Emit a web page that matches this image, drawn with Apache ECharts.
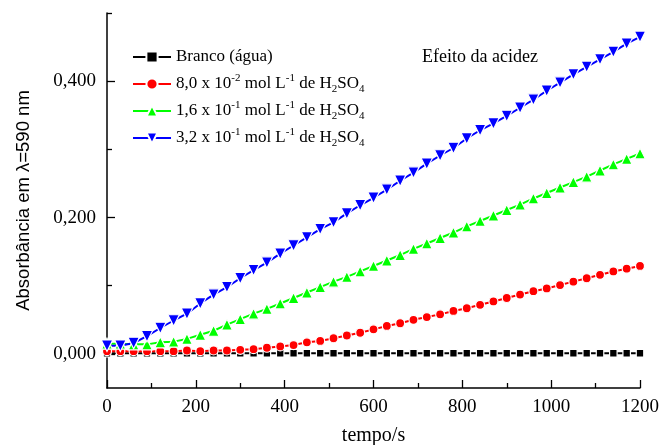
<!DOCTYPE html>
<html>
<head>
<meta charset="utf-8">
<script src="https://cdn.jsdelivr.net/npm/echarts@6/dist/echarts.min.js"></script>
<style>html,body{margin:0;padding:0;background:#fff}#c{width:665px;height:445px}</style>
</head>
<body>
<div id="c"></div>
<script>
var times = [0,30,60,90,120,150,180,210,240,270,300,330,360,390,420,450,480,510,540,570,600,630,660,690,720,750,780,810,840,870,900,930,960,990,1020,1050,1080,1110,1140,1170,1200];
var branco = [0.001,0.001,0.001,0.001,0.001,0.001,0.001,0.001,0.001,0.001,0.001,0.001,0.001,0.001,0.001,0.001,0.001,0.001,0.001,0.001,0.001,0.001,0.001,0.001,0.001,0.001,0.001,0.001,0.001,0.001,0.001,0.001,0.001,0.001,0.001,0.001,0.001,0.001,0.001,0.001,0.001];
var acid80e3 = [0.004,0.004,0.004,0.004,0.004,0.004,0.005,0.004,0.005,0.005,0.006,0.007,0.009,0.011,0.013,0.017,0.019,0.023,0.027,0.031,0.036,0.041,0.045,0.050,0.054,0.058,0.063,0.067,0.072,0.077,0.082,0.087,0.092,0.096,0.101,0.106,0.111,0.116,0.121,0.125,0.129];
var acid16e2 = [0.015,0.015,0.014,0.014,0.017,0.018,0.022,0.028,0.034,0.043,0.051,0.059,0.066,0.074,0.082,0.090,0.098,0.106,0.113,0.121,0.129,0.137,0.145,0.154,0.162,0.170,0.178,0.187,0.195,0.203,0.211,0.219,0.228,0.236,0.244,0.252,0.260,0.269,0.278,0.286,0.294];
var acid32e2 = [0.012,0.012,0.016,0.026,0.038,0.049,0.059,0.074,0.087,0.098,0.111,0.123,0.134,0.147,0.159,0.171,0.183,0.193,0.206,0.218,0.229,0.241,0.254,0.266,0.279,0.291,0.302,0.316,0.328,0.338,0.349,0.361,0.373,0.386,0.398,0.410,0.421,0.432,0.443,0.455,0.465];
var seriesNames = ['Branco (água)', '8,0 x 10-2 mol L-1 de H2SO4', '1,6 x 10-1 mol L-1 de H2SO4', '3,2 x 10-1 mol L-1 de H2SO4'];
var legendRich = ['Branco (água)', '8,0 x 10{sup|-2} mol L{sup|-1} de H{sub|2}SO{sub|4}', '1,6 x 10{sup|-1} mol L{sup|-1} de H{sub|2}SO{sub|4}', '3,2 x 10{sup|-1} mol L{sup|-1} de H{sub|2}SO{sub|4}'];
var yLabelTicks = [0, 0.2, 0.4];
var yMinorTicks = [0.1, 0.3, 0.5];
var xTicks = [0, 200, 400, 600, 800, 1000, 1200];
var titleText = 'Efeito da acidez';
var xName = 'tempo/s';
var yName = 'Absorbância em λ=590 nm';

function pairs(vals){ return times.map(function(t,i){ return [t, vals[i]]; }); }

var serif = 'Liberation Serif';
var chart = echarts.init(document.getElementById('c'), null, {renderer:'canvas'});
var mk = function(name, vals, color, symbol, size, rot){
  return {
    type:'line', name:name, data:pairs(vals), symbol:symbol, symbolSize:size, symbolRotate:rot||0,
    lineStyle:{width:2, color:color}, itemStyle:{color:color, borderColor:'#fff', borderWidth:1.2},
    animation:false
  };
};
chart.setOption({
  backgroundColor:'#fff',
  animation:false,
  title:{text:titleText, left:417, top:43, textStyle:{fontFamily:serif, fontSize:18, fontWeight:'normal', color:'#000'}},
  grid:{left:107, right:25, top:13, bottom:57, outerBoundsMode:'none', containLabel:false},
  legend:{
    orient:'vertical', left:127, top:41, itemWidth:38, itemHeight:14, itemGap:5,
    data:seriesNames,
    formatter:function(n){ return legendRich[seriesNames.indexOf(n)]; },
    textStyle:{fontFamily:serif, fontSize:17, color:'#000', lineHeight:22,
      rich:{
        sup:{fontFamily:serif, fontSize:11, verticalAlign:'top', lineHeight:11},
        sub:{fontFamily:serif, fontSize:11, verticalAlign:'bottom', lineHeight:11}
      }}
  },
  xAxis:{
    type:'value', min:0, max:1200, interval:200,
    name:xName, nameLocation:'middle', nameGap:38,
    nameTextStyle:{fontFamily:serif, fontSize:20, color:'#000'},
    axisLine:{show:true, onZero:false, lineStyle:{color:'#000', width:1.5}},
    axisTick:{show:true, inside:true, length:8, lineStyle:{color:'#000', width:1.3}},
    minorTick:{show:true, splitNumber:2, length:5, lineStyle:{color:'#000', width:1.3}},
    axisLabel:{fontFamily:serif, fontSize:19, color:'#000', margin:10, customValues:xTicks,
      formatter:function(v){ return String(v); }},
    splitLine:{show:false}
  },
  yAxis:[{
    type:'value', min:-0.05, max:0.5,
    name:yName, nameLocation:'middle', nameGap:74,
    nameTextStyle:{fontFamily:'Liberation Sans', fontSize:18.5, color:'#000'},
    axisLine:{show:true, onZero:false, lineStyle:{color:'#000', width:1.5}},
    axisTick:{show:true, inside:true, length:8, customValues:yLabelTicks, lineStyle:{color:'#000', width:1.3}},
    axisLabel:{fontFamily:serif, fontSize:19, color:'#000', margin:11, customValues:yLabelTicks,
      formatter:function(v){ return v.toFixed(3).replace('.', ','); }},
    splitLine:{show:false}
  },{
    type:'value', min:-0.05, max:0.5, position:'left',
    axisLine:{show:false},
    axisTick:{show:true, inside:true, length:5, customValues:yMinorTicks, lineStyle:{color:'#000', width:1.3}},
    axisLabel:{show:false},
    splitLine:{show:false}
  }],
  series:[
    mk(seriesNames[0], branco, '#000000', 'rect', 7.5),
    mk(seriesNames[1], acid80e3, '#ff0000', 'circle', 9),
    mk(seriesNames[2], acid16e2, '#00ff00', 'triangle', 11),
    mk(seriesNames[3], acid32e2, '#0000ff', 'triangle', 11.5, 180)
  ]
});
</script>
</body>
</html>
